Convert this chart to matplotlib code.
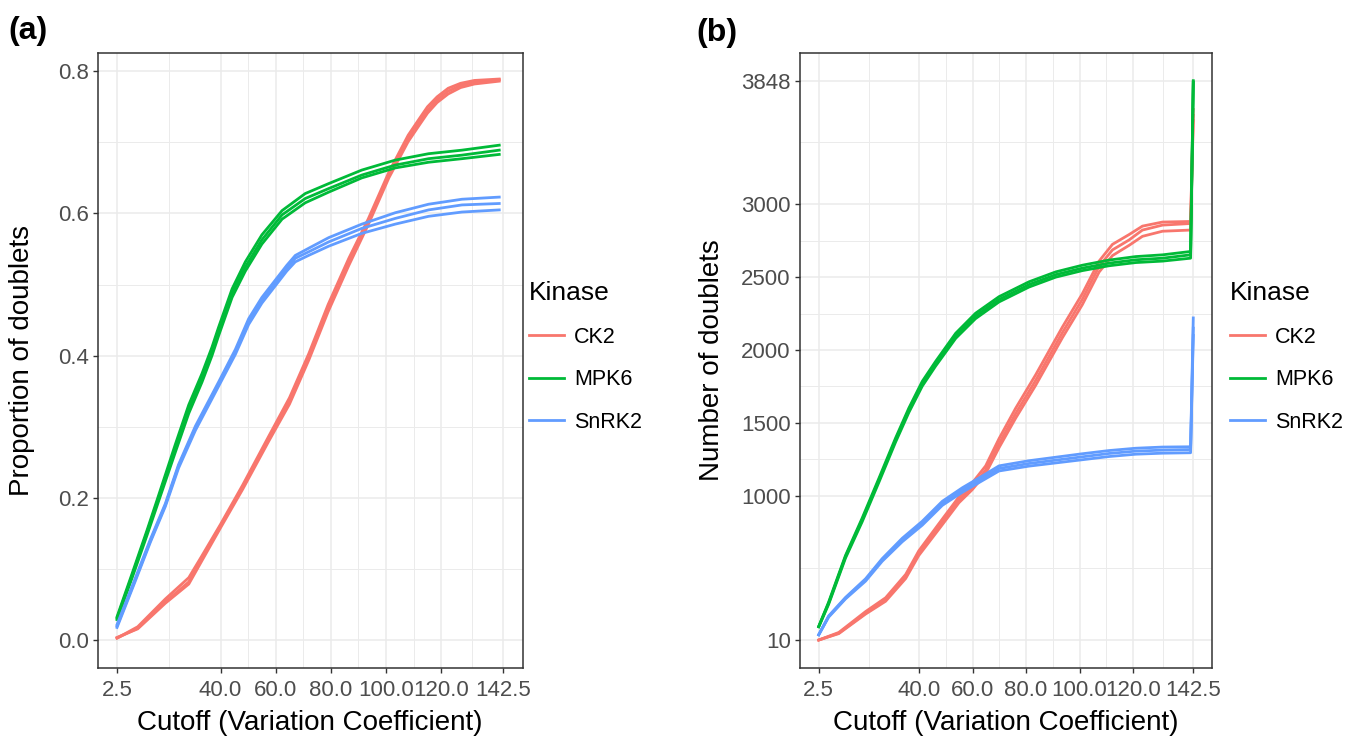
import matplotlib
matplotlib.use('Agg')
from matplotlib import pyplot as plt
from matplotlib.ticker import FixedLocator

plt.rcParams['font.family'] = ['Liberation Sans', 'DejaVu Sans']

kinases = ['CK2', 'MPK6', 'SnRK2']
colors = {'CK2': '#F8766D', 'MPK6': '#00BA38', 'SnRK2': '#619CFF'}

x_ticks = [2.5, 40, 60, 80, 100, 120, 142.5]
x_tick_labels = ['2.5', '40.0', '60.0', '80.0', '100.0', '120.0', '142.5']
x_minor = [21.25, 50, 70, 90, 110, 131.25]

# ---- panel (a): proportion of doublets, three replicates per kinase
prop_x = {
    'CK2': [2.5, 10, 20, 28.5, 33, 40, 48, 57.5, 65, 72, 79, 86.5, 93.5, 101, 108, 112, 115, 118.5, 122.5, 127, 132, 141],
    'MPK6': [2.5, 7.9, 13.4, 17, 23.6, 28.5, 33.3, 36.9, 39.3, 44.2, 49, 55, 62.3, 70.7, 79.2, 91.2, 103.3, 115.4, 127.5, 141],
    'SnRK2': [2.5, 9.1, 14.6, 20, 24.8, 30.9, 39.3, 45.4, 50.2, 55, 59.8, 64, 67.1, 71.9, 79.2, 91.2, 103.3, 115.4, 127.5, 141],
}
prop_reps = {
    'CK2': [
        [0.003, 0.017, 0.054, 0.082, 0.113, 0.161, 0.215, 0.283, 0.336, 0.398, 0.467, 0.532, 0.588, 0.654, 0.705, 0.728, 0.745, 0.760, 0.772, 0.780, 0.785, 0.788],
        [0.003, 0.019, 0.058, 0.088, 0.117, 0.163, 0.218, 0.287, 0.341, 0.403, 0.472, 0.537, 0.592, 0.658, 0.710, 0.733, 0.750, 0.764, 0.776, 0.783, 0.787, 0.789],
        [0.004, 0.016, 0.052, 0.079, 0.110, 0.158, 0.212, 0.280, 0.332, 0.394, 0.462, 0.527, 0.584, 0.650, 0.701, 0.724, 0.741, 0.756, 0.768, 0.777, 0.782, 0.786],
    ],
    'MPK6': [
        [0.033, 0.093, 0.155, 0.197, 0.275, 0.331, 0.375, 0.412, 0.440, 0.494, 0.532, 0.570, 0.604, 0.628, 0.642, 0.661, 0.675, 0.684, 0.689, 0.696],
        [0.031, 0.090, 0.152, 0.193, 0.269, 0.325, 0.369, 0.406, 0.434, 0.488, 0.525, 0.563, 0.598, 0.621, 0.635, 0.654, 0.668, 0.677, 0.682, 0.689],
        [0.029, 0.087, 0.148, 0.189, 0.264, 0.319, 0.363, 0.400, 0.428, 0.482, 0.519, 0.557, 0.592, 0.615, 0.630, 0.650, 0.664, 0.672, 0.677, 0.683],
    ],
    'SnRK2': [
        [0.022, 0.087, 0.142, 0.192, 0.247, 0.301, 0.363, 0.409, 0.452, 0.482, 0.506, 0.527, 0.541, 0.551, 0.566, 0.585, 0.601, 0.613, 0.620, 0.623],
        [0.020, 0.085, 0.140, 0.190, 0.245, 0.298, 0.360, 0.405, 0.448, 0.478, 0.502, 0.523, 0.537, 0.546, 0.560, 0.579, 0.593, 0.605, 0.612, 0.614],
        [0.018, 0.083, 0.138, 0.188, 0.242, 0.295, 0.357, 0.402, 0.444, 0.474, 0.498, 0.519, 0.532, 0.541, 0.554, 0.572, 0.585, 0.596, 0.602, 0.605],
    ],
}

# ---- panel (b): number of doublets (last cutoff jumps to the total)
num_x = {
    'CK2': [2.5, 10, 20, 27.5, 35, 39.9, 47.4, 54.9, 59.9, 64.9, 69.9, 76.1, 83.6, 93.6, 101, 107.3, 112.3, 118.5, 123.5, 131, 141.5, 142.5],
    'MPK6': [2.5, 6.2, 12.5, 18.7, 25, 31.2, 36.2, 41.2, 46.2, 53.7, 61.1, 69.9, 81.1, 91.1, 101.1, 111, 121, 131, 141.5, 142.5],
    'SnRK2': [2.5, 6.2, 12.5, 20, 26.2, 33.7, 41.2, 48.7, 56.2, 63.6, 69.9, 81, 91, 101, 111, 121, 131, 141.5, 142.5],
}
num_reps = {
    'CK2': [
        [10, 57, 194, 285, 445, 605, 788, 970, 1062, 1176, 1358, 1564, 1792, 2120, 2347, 2574, 2687, 2755, 2823, 2857, 2868, 3610],
        [10, 62, 205, 300, 460, 622, 808, 992, 1088, 1205, 1392, 1600, 1830, 2158, 2385, 2610, 2725, 2792, 2850, 2878, 2882, 3650],
        [10, 54, 188, 276, 432, 590, 770, 952, 1042, 1152, 1330, 1532, 1758, 2085, 2310, 2535, 2648, 2718, 2780, 2815, 2823, 3575],
    ],
    'MPK6': [
        [103, 270, 590, 845, 1120, 1395, 1602, 1785, 1922, 2115, 2252, 2366, 2468, 2536, 2582, 2617, 2641, 2653, 2676, 3848],
        [103, 263, 582, 833, 1107, 1381, 1587, 1769, 1906, 2097, 2233, 2347, 2449, 2517, 2562, 2596, 2619, 2630, 2653, 3840],
        [100, 255, 572, 820, 1093, 1367, 1572, 1752, 1890, 2080, 2215, 2330, 2432, 2500, 2545, 2578, 2600, 2610, 2630, 3835],
    ],
    'SnRK2': [
        [46, 175, 302, 430, 568, 708, 825, 962, 1055, 1135, 1205, 1240, 1264, 1288, 1310, 1326, 1334, 1336, 2220],
        [46, 171, 297, 422, 559, 696, 811, 948, 1039, 1119, 1187, 1221, 1244, 1267, 1290, 1306, 1313, 1317, 2150],
        [46, 167, 292, 414, 550, 684, 798, 934, 1024, 1103, 1170, 1203, 1225, 1247, 1269, 1285, 1292, 1295, 2100],
    ],
}

prop_ticks = [0.0, 0.2, 0.4, 0.6, 0.8]
prop_tick_labels = ['0.0', '0.2', '0.4', '0.6', '0.8']
prop_minor = [0.1, 0.3, 0.5, 0.7]
num_ticks = [10, 1000, 1500, 2000, 2500, 3000, 3848]
num_tick_labels = ['10', '1000', '1500', '2000', '2500', '3000', '3848']
num_minor = [505, 1250, 1750, 2250, 2750, 3424]

fig = plt.figure(figsize=(13.5, 7.39), dpi=100)
ax_a = fig.add_axes([97.7 / 1350, 71 / 739, 425 / 1350, 615.3 / 739])
ax_b = fig.add_axes([800 / 1350, 71 / 739, 412 / 1350, 615.3 / 739])

grey20 = '#333333'


def style_axes(ax, yticks, ylabels, yminor, ylim):
    ax.set_xlim(-4.5, 149.5)
    ax.set_ylim(*ylim)
    ax.xaxis.set_major_locator(FixedLocator(x_ticks))
    ax.set_xticklabels(x_tick_labels)
    ax.xaxis.set_minor_locator(FixedLocator(x_minor))
    ax.yaxis.set_major_locator(FixedLocator(yticks))
    ax.set_yticklabels(ylabels)
    ax.yaxis.set_minor_locator(FixedLocator(yminor))
    ax.grid(which='major', color='#EBEBEB', linewidth=1.1)
    ax.grid(which='minor', color='#EBEBEB', linewidth=0.7)
    ax.set_axisbelow(True)
    ax.tick_params(which='major', length=3.6, width=1.0, color=grey20,
                   labelsize=16, labelcolor='#4D4D4D', pad=3)
    ax.tick_params(axis='x', which='major', pad=5)
    ax.tick_params(which='minor', length=0)
    for sp in ax.spines.values():
        sp.set_color(grey20)
        sp.set_linewidth(1.1)


def draw(ax, xs, reps):
    handles = []
    for k in kinases:
        for i, ys in enumerate(reps[k]):
            ln, = ax.plot(xs[k], ys, color=colors[k], linewidth=2.0,
                          solid_joinstyle='round')
            if i == 0:
                handles.append(ln)
    return handles


h_a = draw(ax_a, prop_x, prop_reps)
style_axes(ax_a, prop_ticks, prop_tick_labels, prop_minor, (-0.039, 0.826))
h_b = draw(ax_b, num_x, num_reps)
style_axes(ax_b, num_ticks, num_tick_labels, num_minor, (-182, 4040))

for ax, ylab, ylx in [(ax_a, 'Proportion of doublets', -0.148),
                      (ax_b, 'Number of doublets', -0.183)]:
    ax.set_xlabel('Cutoff (Variation Coefficient)', fontsize=20)
    ax.xaxis.set_label_coords(0.5, -0.068)
    ax.set_ylabel(ylab, fontsize=20)
    ax.yaxis.set_label_coords(ylx, 0.5)

for ax, hs, lx in [(ax_a, h_a, 529), (ax_b, h_b, 1230)]:
    ax.legend(hs, kinases, title='Kinase', loc='upper left',
              bbox_to_anchor=(lx / 1350, 1 - 281 / 739),
              bbox_transform=fig.transFigure, frameon=False, borderpad=0,
              borderaxespad=0, alignment='left', handlelength=1.63,
              handletextpad=0.47, labelspacing=1.0, fontsize=15.5,
              title_fontsize=19)

fig.text(8 / 1350, 1 - 31 / 739, '(a)', fontsize=23, fontweight='bold', va='center')
fig.text(696 / 1350, 1 - 33 / 739, '(b)', fontsize=23, fontweight='bold', va='center')

fig.savefig('out.png', dpi=100)
